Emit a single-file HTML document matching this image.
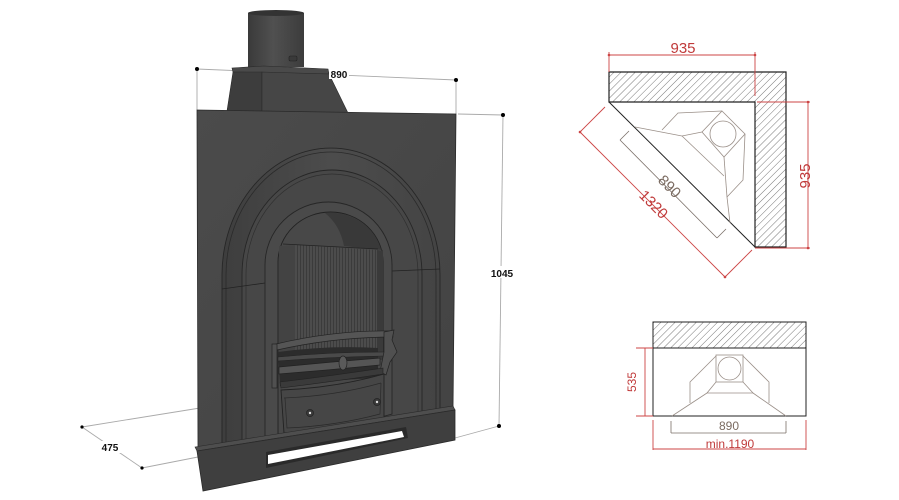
<!DOCTYPE html>
<html><head><meta charset="utf-8"><style>
html,body{margin:0;padding:0;background:#fff;}
svg{display:block;}
text{font-family:"Liberation Sans",sans-serif;}
</style></head><body>
<svg width="899" height="500" viewBox="0 0 899 500" xmlns="http://www.w3.org/2000/svg">
<defs>
<pattern id="hatch" patternUnits="userSpaceOnUse" width="5" height="5" patternTransform="rotate(45)">
<rect width="5" height="5" fill="#fff"/>
<line x1="0" y1="0" x2="0" y2="5" stroke="#555" stroke-width="0.8"/>
</pattern>
<pattern id="flute" patternUnits="userSpaceOnUse" width="3" height="10">
<rect width="3" height="10" fill="#4c4c4c"/>
<line x1="0.5" y1="0" x2="0.5" y2="10" stroke="#333" stroke-width="0.7"/>
</pattern>
<linearGradient id="pipe" x1="0" x2="1" y1="0" y2="0">
<stop offset="0" stop-color="#3a3a3a"/><stop offset="0.45" stop-color="#505050"/><stop offset="1" stop-color="#3c3c3c"/>
</linearGradient>
<linearGradient id="panel" x1="0" x2="1" y1="0" y2="1">
<stop offset="0" stop-color="#4b4b4b"/><stop offset="1" stop-color="#434343"/>
</linearGradient>
<linearGradient id="ring" x1="0" x2="1" y1="0" y2="0">
<stop offset="0" stop-color="#3e3e3e"/><stop offset="0.5" stop-color="#4c4c4c"/><stop offset="1" stop-color="#444"/>
</linearGradient>
</defs>

<!-- dimension lines left part -->
<g stroke="#aaa" stroke-width="0.9" fill="none">
<line x1="197" y1="69" x2="456" y2="80"/>
<line x1="197" y1="69" x2="197" y2="110"/>
<line x1="456" y1="80" x2="456" y2="114"/>
<line x1="458" y1="114" x2="503" y2="115"/>
<line x1="503" y1="115" x2="499" y2="426"/>
<line x1="455" y1="438" x2="499" y2="426"/>
<line x1="82" y1="427" x2="200" y2="408"/>
<line x1="142" y1="468" x2="198" y2="457"/>
<line x1="82" y1="427" x2="142" y2="468"/>
</g>

<!-- flue pipe -->
<rect x="248" y="13" width="56" height="54" fill="url(#pipe)"/>
<ellipse cx="276" cy="13" rx="28" ry="3" fill="#333"/>
<rect x="289" y="56" width="8" height="5" rx="1.5" fill="#3a3a3a" stroke="#222" stroke-width="0.6"/>

<!-- hood -->
<polygon points="232,68 264,66 328,69 329,74 233,72" fill="#4a4a4a" stroke="#2a2a2a" stroke-width="0.6"/>
<polygon points="233,72 262,72 262,111 227,111" fill="#3d3d3d" stroke="#2a2a2a" stroke-width="0.6"/>
<polygon points="262,72 329,74 348,113 262,111" fill="#464646" stroke="#2a2a2a" stroke-width="0.6"/>

<!-- main panel -->
<polygon points="197,110 456,114 453,408 198,448" fill="url(#panel)" stroke="#2a2a2a" stroke-width="0.8"/>

<!-- outer arch moulding -->
<path d="M222 450 L222 275 A109 127 0 0 1 440 275 L440 414 Z" fill="url(#ring)" stroke="#262626" stroke-width="0.9"/>
<path d="M226 450 L226 275 A105 123 0 0 1 436 275 L436 414" fill="none" stroke="#2a2a2a" stroke-width="0.8"/>
<path d="M242 450 L242 275 A90 105 0 0 1 422 275 L422 414 Z" fill="#474747" stroke="#262626" stroke-width="0.9"/>
<path d="M246 450 L246 275 A86 101 0 0 1 418 275 L418 414" fill="none" stroke="#2f2f2f" stroke-width="0.7"/>
<!-- joint lines -->
<line x1="222" y1="289" x2="265" y2="283" stroke="#222" stroke-width="0.8"/>
<line x1="392" y1="271" x2="440" y2="269" stroke="#222" stroke-width="0.8"/>
<!-- inner ring -->
<path d="M265 450 L265 265 A63.5 63 0 0 1 392 265 L392 414 Z" fill="#4a4a4a" stroke="#262626" stroke-width="0.9"/>
<!-- opening -->
<path d="M278 450 L278 262 A52.5 50 0 0 1 383 262 L383 414 Z" fill="#484848" stroke="#222" stroke-width="0.9"/>
<!-- roof shadow -->
<path d="M325 213 Q 340 225 344 246 L383 250 L383 262 A52.5 50 0 0 0 325 213 Z" fill="#393939"/>
<!-- side wall and flutes -->
<polygon points="279,246 295,245 295,360 279,360" fill="#434343"/>
<polygon points="295,245 377,250 377,360 295,360" fill="url(#flute)"/>
<polygon points="377,250 383,251 383,360 377,360" fill="#3a3a3a"/>
<line x1="283" y1="244" x2="378" y2="249" stroke="#222" stroke-width="0.8"/>

<!-- grate -->
<path d="M278 352 Q 330 345 378 348 L378 378 Q 330 380 280 386 Z" fill="#2c2c2c"/>
<path d="M276 344 Q 335 330 392 331 L393 337 Q 335 337 277 350 Z" fill="#555" stroke="#222" stroke-width="0.7"/>
<path d="M278 357 Q 330 352 384 352 L384 356 Q 330 357 278 361 Z" fill="#4a4a4a" stroke="#222" stroke-width="0.5"/>
<path d="M279 367 Q 330 362 380 358 L380 365 Q 330 370 279 374 Z" fill="#555" stroke="#222" stroke-width="0.7"/>
<ellipse cx="343" cy="363" rx="4" ry="7" fill="#5a5a5a" stroke="#222" stroke-width="0.7"/>
<rect x="272" y="344" width="5" height="44" fill="#505050" stroke="#222" stroke-width="0.7"/>
<path d="M384 332 L394 330 L392 340 L397 352 L390 362 L386 375 L380 372 L384 352 Z" fill="#505050" stroke="#222" stroke-width="0.7"/>
<path d="M280 382 Q 330 376 383 368 L383 374 Q 330 382 281 388 Z" fill="#3a3a3a" stroke="#222" stroke-width="0.6"/>

<!-- ash pan drawer -->
<path d="M281 390 Q 335 388 384 374 L384 418 Q 335 430 284 433 Z" fill="#464646" stroke="#222" stroke-width="0.9"/>
<path d="M284 398 Q 335 396 381 383" fill="none" stroke="#2a2a2a" stroke-width="0.7"/>
<path d="M285 398 L287 428 Q 335 426 380 414 L381 383" fill="none" stroke="#2a2a2a" stroke-width="0.7"/>
<circle cx="310" cy="413" r="3.5" fill="#3a3a3a" stroke="#222" stroke-width="0.7"/>
<circle cx="310" cy="413" r="1.2" fill="#ddd"/>
<circle cx="377" cy="402" r="3.5" fill="#3a3a3a" stroke="#222" stroke-width="0.7"/>
<circle cx="377" cy="402" r="1.2" fill="#ddd"/>

<!-- base -->
<polygon points="195,447 453,406 455,410 197,451" fill="#4e4e4e" stroke="#2a2a2a" stroke-width="0.6"/>
<polygon points="197,451 455,410 455,440 203,491" fill="#3f3f3f" stroke="#2a2a2a" stroke-width="0.8"/>
<polygon points="266,452 406,427 408,438 266,468" fill="#2a2a2a"/>
<polygon points="268,455 402,431 404,437 268,464" fill="#fff"/>

<!-- dots -->
<g fill="#000">
<circle cx="197" cy="69" r="2"/><circle cx="456" cy="80" r="2"/>
<circle cx="503" cy="115" r="2"/><circle cx="499" cy="426" r="2"/>
<circle cx="82" cy="427" r="1.6"/><circle cx="142" cy="468" r="1.6"/>
</g>
<rect x="329" y="68" width="20" height="11" fill="#fff"/>
<text x="339" y="78" font-size="10" font-weight="bold" text-anchor="middle" fill="#111">890</text>
<rect x="490" y="266" width="24" height="12" fill="#fff"/>
<text x="502" y="277" font-size="10" font-weight="bold" text-anchor="middle" fill="#111">1045</text>
<rect x="99" y="441" width="22" height="12" fill="#fff"/>
<text x="110" y="451" font-size="10" font-weight="bold" text-anchor="middle" fill="#111">475</text>

<!-- ============ top plan view ============ -->
<path d="M609 72 H786 V247 H755 V102 H609 Z" fill="url(#hatch)" stroke="#222" stroke-width="1.2"/>
<line x1="609" y1="102" x2="755" y2="247" stroke="#222" stroke-width="1"/>
<g stroke="#9a8f88" stroke-width="0.8" fill="none">
<polyline points="635,127 682,136 702,132"/>
<polyline points="662,130 678,113 722,111"/>
<polygon points="722,111 745,134 724,157 702,132"/>
<line x1="682" y1="136" x2="724" y2="176"/>
<polyline points="724,157 727,197"/>
<polyline points="745,134 743,180 727,197 730,223"/>
<circle cx="723" cy="134" r="13"/>
</g>
<g stroke="#c44" stroke-width="0.9" fill="none">
<line x1="609" y1="55" x2="755" y2="55"/>
<line x1="609" y1="52" x2="609" y2="72"/>
<line x1="755" y1="52" x2="755" y2="96"/>
<line x1="757" y1="102" x2="810" y2="102"/>
<line x1="755" y1="248" x2="810" y2="248"/>
<line x1="808" y1="102" x2="808" y2="248"/>
<line x1="580" y1="132" x2="725" y2="277"/>
<line x1="580" y1="132" x2="605" y2="107"/>
<line x1="725" y1="277" x2="752" y2="250"/>
</g>
<g fill="#c44">
<circle cx="609" cy="55" r="1.3"/><circle cx="755" cy="55" r="1.3"/>
<circle cx="808" cy="102" r="1.3"/><circle cx="808" cy="248" r="1.3"/>
<circle cx="580" cy="132" r="1.3"/><circle cx="725" cy="277" r="1.3"/>
</g>
<g stroke="#7a6f68" stroke-width="0.8" fill="none">
<line x1="620" y1="140" x2="717" y2="238"/>
<line x1="620" y1="140" x2="629" y2="131"/>
<line x1="717" y1="238" x2="726" y2="229"/>
</g>
<rect x="668" y="40" width="30" height="14" fill="#fff"/>
<text x="683" y="53" font-size="15" text-anchor="middle" fill="#c03a3a">935</text>
<text transform="translate(810,176) rotate(-90)" font-size="15" text-anchor="middle" fill="#c03a3a">935</text>
<text transform="translate(650,208) rotate(45)" font-size="15" text-anchor="middle" fill="#c03a3a">1320</text>
<text transform="translate(666,190) rotate(45)" font-size="15" text-anchor="middle" fill="#7a6a60">890</text>

<!-- ============ front plan view ============ -->
<rect x="653" y="322" width="153" height="26" fill="url(#hatch)" stroke="#222" stroke-width="1"/>
<rect x="653" y="348" width="153" height="68" fill="#fff" stroke="#222" stroke-width="1"/>
<g stroke="#9a8f88" stroke-width="0.8" fill="none">
<rect x="716" y="355" width="27" height="27"/>
<circle cx="729.5" cy="368.5" r="11.5"/>
<polyline points="716,356 690,382 690,403"/>
<polyline points="743,356 769,382 769,403"/>
<polyline points="716,382 707,393 753,393 743,382"/>
<line x1="707" y1="393" x2="672" y2="416"/>
<line x1="753" y1="393" x2="786" y2="416"/>
</g>
<g stroke="#c44" stroke-width="0.9" fill="none">
<line x1="645" y1="348" x2="645" y2="416"/>
<line x1="636" y1="348" x2="653" y2="348"/>
<line x1="636" y1="416" x2="653" y2="416"/>
<line x1="653" y1="420" x2="653" y2="450"/>
<line x1="806" y1="420" x2="806" y2="450"/>
<line x1="653" y1="449" x2="806" y2="449"/>
</g>
<g stroke="#7a6f68" stroke-width="0.8" fill="none">
<line x1="671" y1="433" x2="786" y2="433"/>
<line x1="671" y1="421" x2="671" y2="433"/>
<line x1="786" y1="421" x2="786" y2="433"/>
</g>
<text transform="translate(636,382) rotate(-90)" font-size="12" text-anchor="middle" fill="#c03a3a">535</text>
<text x="729" y="430" font-size="12" text-anchor="middle" fill="#7a6a60">890</text>
<text x="730" y="448" font-size="12" text-anchor="middle" fill="#c03a3a">min.1190</text>
</svg>
</body></html>
